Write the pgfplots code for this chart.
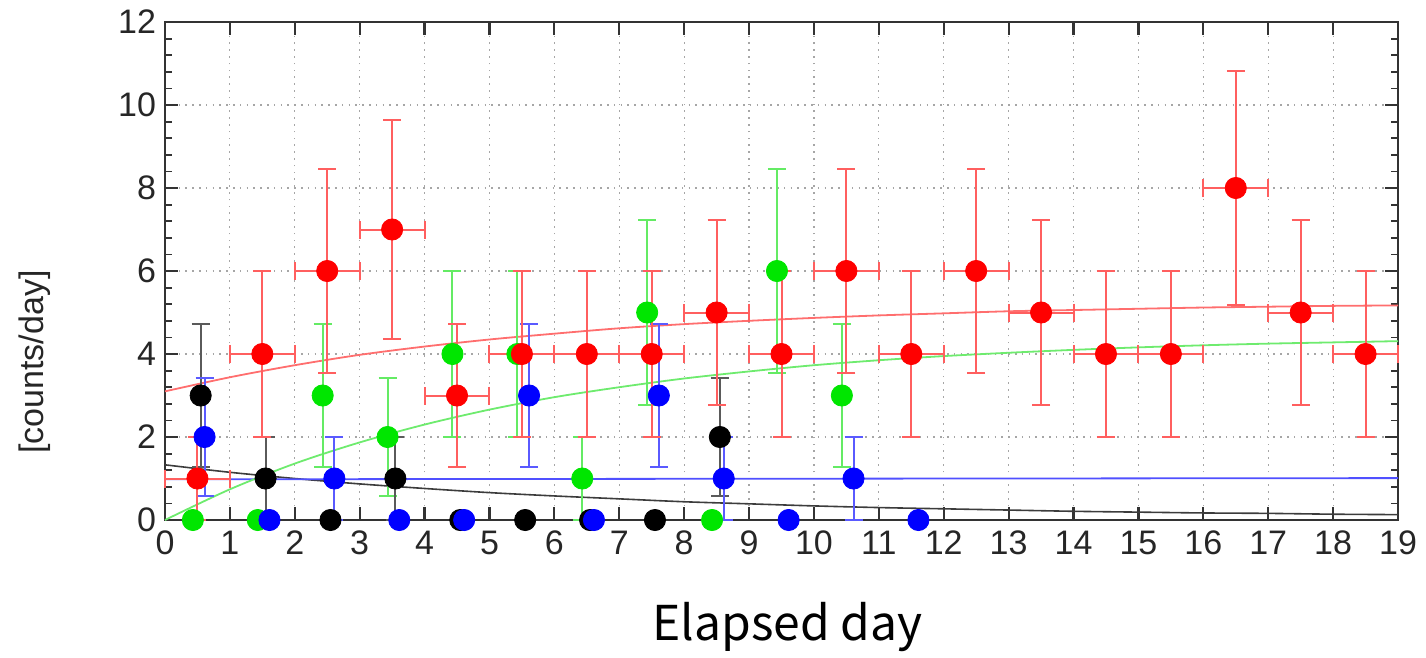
\documentclass[border=0pt]{standalone}
\usepackage{fontspec}
\setmainfont{Liberation Sans}
\newfontfamily\jpfont{Noto Sans CJK JP}
\usepackage{pgfplots}
\pgfplotsset{compat=1.18}
\usepackage{pgfplotstable}

\definecolor{ptred}{RGB}{255,0,0}
\definecolor{errred}{RGB}{255,95,95}
\definecolor{fitred}{RGB}{255,110,110}
\definecolor{ptgreen}{RGB}{0,230,0}
\definecolor{errgreen}{RGB}{100,235,100}
\definecolor{fitgreen}{RGB}{110,235,110}
\definecolor{ptblue}{RGB}{0,0,255}
\definecolor{errblue}{RGB}{90,90,255}
\definecolor{fitblue}{RGB}{80,80,255}
\definecolor{errgray}{RGB}{90,90,90}
\definecolor{fitgray}{RGB}{60,60,60}

% daily counts with Poisson errors
\pgfplotstableread{
x y ey
0.43 0 0
1.43 0 0
2.43 3 1.73
3.43 2 1.41
4.43 4 2
5.43 4 2
6.43 1 1
7.43 5 2.24
8.43 0 0
9.43 6 2.45
10.43 3 1.73
}\greendata
\pgfplotstableread{
x y ey
0.55 3 1.73
1.55 1 1
2.55 0 0
3.55 1 1
4.55 0 0
5.55 0 0
6.55 0 0
7.55 0 0
8.55 2 1.41
}\blackdata
\pgfplotstableread{
x y ey
0.61 2 1.41
1.61 0 0
2.61 1 1
3.61 0 0
4.61 0 0
5.61 3 1.73
6.61 0 0
7.61 3 1.73
8.61 1 1
9.61 0 0
10.61 1 1
11.61 0 0
}\bluedata
\pgfplotstableread{
x y ex ey
0.5 1 0.5 1
1.5 4 0.5 2
2.5 6 0.5 2.45
3.5 7 0.5 2.65
4.5 3 0.5 1.73
5.5 4 0.5 2
6.5 4 0.5 2
7.5 4 0.5 2
8.5 5 0.5 2.24
9.5 4 0.5 2
10.5 6 0.5 2.45
11.5 4 0.5 2
12.5 6 0.5 2.45
13.5 5 0.5 2.24
14.5 4 0.5 2
15.5 4 0.5 2
16.5 8 0.5 2.83
17.5 5 0.5 2.24
18.5 4 0.5 2
}\reddata

\begin{document}
\begin{tikzpicture}
\begin{axis}[
  scale only axis, width=616.5pt, height=249pt,
  xmin=0, xmax=19, ymin=0, ymax=12,
  xtick={0,1,...,19}, ytick={0,2,...,12},
  minor y tick num=4,
  tick align=inside,
  major tick length=6.5pt, minor tick length=3.5pt,
  every tick/.style={black!80, line width=1.1pt},
  minor tick style={line width=0.9pt},
  axis line style={black!80, line width=1.2pt},
  grid=major,
  major grid style={black!35, line width=0.6pt, dash pattern=on 0.8pt off 2.6pt},
  tick label style={font=\fontsize{17}{20}\selectfont, text=black!85},
  /pgf/number format/assume math mode=true,
  xticklabel style={yshift=-2pt},
  yticklabel style={xshift=-1pt},
  xlabel={Elapsed day},
  ylabel={[counts/day]},
  every axis x label/.style={at={(axis description cs:0.505,-0.241)}, anchor=base,
    font=\jpfont\fontsize{24}{28}\selectfont, text=black},
  every axis y label/.style={at={(axis description cs:-0.1054,0.317)}, rotate=90, anchor=center,
    font=\fontsize{17}{20}\selectfont, text=black!85},
  clip=false,
]
% fitted curves
\addplot[fitgray, line width=0.8pt, smooth] coordinates {
(0,1.33) (1,1.15) (2,1.00) (3,0.87) (4,0.76) (5,0.66) (6,0.58) (7,0.51) (8,0.44) (9,0.39)
(10,0.34) (11,0.30) (12,0.27) (13,0.24) (14,0.21) (15,0.19) (16,0.17) (17,0.16) (18,0.14) (19,0.13)};
\addplot[fitblue, line width=0.9pt] coordinates {(0,0.98) (19,1.01)};
\addplot[fitgreen, line width=0.9pt, smooth] coordinates {
(0,0) (1,0.74) (2,1.36) (3,1.87) (4,2.30) (5,2.66) (6,2.96) (7,3.20) (8,3.41) (9,3.58)
(10,3.73) (11,3.85) (12,3.95) (13,4.03) (14,4.10) (15,4.16) (16,4.21) (17,4.25) (18,4.28) (19,4.31)};
\addplot[fitred, line width=0.9pt, smooth] coordinates {
(0,3.10) (1,3.44) (2,3.73) (3,3.98) (4,4.18) (5,4.35) (6,4.49) (7,4.62) (8,4.72) (9,4.80)
(10,4.87) (11,4.93) (12,4.98) (13,5.03) (14,5.06) (15,5.09) (16,5.12) (17,5.14) (18,5.16) (19,5.17)};

% data points
\addplot[only marks, mark=*, mark size=5.3pt, mark options={fill=ptgreen, draw=ptgreen},
  error bars/.cd, y dir=both, y explicit,
  error bar style={errgreen, line width=1pt},
  error mark options={rotate=90, errgreen, mark size=4.5pt, line width=1pt}]
  table[x=x, y=y, y error=ey] {\greendata};
\addplot[only marks, mark=*, mark size=5.3pt, mark options={fill=black, draw=black},
  error bars/.cd, y dir=both, y explicit,
  error bar style={errgray, line width=1pt},
  error mark options={rotate=90, errgray, mark size=4.5pt, line width=1pt}]
  table[x=x, y=y, y error=ey] {\blackdata};
\addplot[only marks, mark=*, mark size=5.3pt, mark options={fill=ptblue, draw=ptblue},
  error bars/.cd, y dir=both, y explicit,
  error bar style={errblue, line width=1pt},
  error mark options={rotate=90, errblue, mark size=4.5pt, line width=1pt}]
  table[x=x, y=y, y error=ey] {\bluedata};
\addplot[only marks, mark=*, mark size=5.3pt, mark options={fill=ptred, draw=ptred},
  error bars/.cd, x dir=both, x explicit, y dir=both, y explicit,
  error bar style={errred, line width=1pt},
  error mark options={rotate=90, errred, mark size=4.5pt, line width=1pt}]
  table[x=x, y=y, x error=ex, y error=ey] {\reddata};

\path (axis description cs:-0.1338,-0.2631) (axis description cs:1.0227,1.0442);
\end{axis}
\end{tikzpicture}
\end{document}
